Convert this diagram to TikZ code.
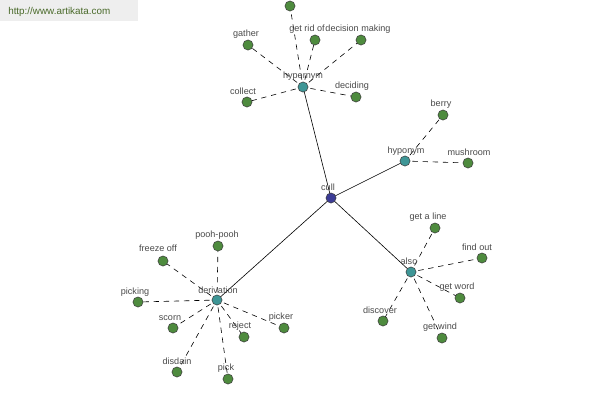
\documentclass[tikz,border=0pt]{standalone}
\usepackage{fontspec}
\setmainfont{Liberation Sans}
\pgfdeclarelayer{background}
\pgfsetlayers{background,main}
\definecolor{leafgreen}{HTML}{4E8B3E}
\definecolor{hubteal}{HTML}{3E9696}
\definecolor{rootblue}{HTML}{3C3C96}
\definecolor{labgray}{HTML}{4A4A4A}
\definecolor{wmgreen}{HTML}{4A6A2A}
\definecolor{wmbg}{HTML}{EEEEEE}
\tikzset{
  dot/.style={circle,draw=black!75,line width=0.4pt,minimum size=7.6pt,inner sep=0pt},
  leaf/.style={dot,fill=leafgreen},
  hub/.style={dot,fill=hubteal},
  rootnode/.style={dot,fill=rootblue},
  lab/.style={font=\fontsize{6.8}{7}\selectfont,text=labgray,inner sep=0pt},
  solidedge/.style={draw=black,line width=0.45pt},
  dashedge/.style={draw=black,line width=0.45pt,dash pattern=on 4pt off 3.6pt,dash phase=2pt}
}
\begin{document}
\begin{tikzpicture}[x=0.75pt,y=-0.75pt]
\useasboundingbox (0,0) rectangle (600,400);

% hubs
\node[rootnode] (cull) at (331,198) {};
\node[hub] (hyper) at (303,87) {};
\node[hub] (hypo) at (405,161) {};
\node[hub] (also) at (411,272) {};
\node[hub] (deriv) at (217,300) {};

\node[lab] (cull-l) at (328,187) {cull};
\node[lab] (hyper-l) at (303,76) {hypernym};
\node[lab] (hypo-l) at (406,151) {hyponym};
\node[lab] (also-l) at (409,261) {also};
\node[lab] (deriv-l) at (218,290) {derivation};

% hypernym leaves
\node[leaf] (top) at (290,6) {};
\node[leaf] (gather) at (248,45) {};
\node[lab] (gather-l) at (246,34) {gather};
\node[leaf] (getrid) at (315,40) {};
\node[lab] (getrid-l) at (307,29) {get rid of};
\node[leaf] (decision) at (361,40) {};
\node[lab] (decision-l) at (358,29) {decision making};
\node[leaf] (collect) at (247,102) {};
\node[lab] (collect-l) at (243,91) {collect};
\node[leaf] (deciding) at (356,97) {};
\node[lab] (deciding-l) at (352,86) {deciding};

% hyponym leaves
\node[leaf] (berry) at (443,115) {};
\node[lab] (berry-l) at (441,104) {berry};
\node[leaf] (mushroom) at (468,163) {};
\node[lab] (mushroom-l) at (469,152) {mushroom};

% also leaves
\node[leaf] (getaline) at (435,228) {};
\node[lab] (getaline-l) at (428,217) {get a line};
\node[leaf] (findout) at (482,258) {};
\node[lab] (findout-l) at (477,247) {find out};
\node[leaf] (getword) at (460,298) {};
\node[lab] (getword-l) at (457,287) {get word};
\node[leaf] (discover) at (383,321) {};
\node[lab] (discover-l) at (380,310) {discover};
\node[leaf] (getwind) at (442,338) {};
\node[lab] (getwind-l) at (440,327) {get wind};

% derivation leaves
\node[leaf] (pooh) at (218,246) {};
\node[lab] (pooh-l) at (217,235) {pooh-pooh};
\node[leaf] (freeze) at (163,261) {};
\node[lab] (freeze-l) at (158,248) {freeze off};
\node[leaf] (picking) at (138,302) {};
\node[lab] (picking-l) at (135,292) {picking};
\node[leaf] (scorn) at (173,328) {};
\node[lab] (scorn-l) at (170,318) {scorn};
\node[leaf] (reject) at (244,337) {};
\node[lab] (reject-l) at (240,326) {reject};
\node[leaf] (picker) at (284,328) {};
\node[lab] (picker-l) at (281,317) {picker};
\node[leaf] (disdain) at (177,372) {};
\node[lab] (disdain-l) at (177,361) {disdain};
\node[leaf] (pick) at (228,379) {};
\node[lab] (pick-l) at (226,368) {pick};

\begin{pgfonlayer}{background}
\fill[white] (0,0) rectangle (600,400);
\fill[wmbg] (0,0) rectangle (138,21);
\node[font=\fontsize{7.4}{8}\selectfont,text=wmgreen,anchor=west,inner sep=0pt] (wm) at (8,12) {http://www.artikata.com};
\foreach \h in {hyper,hypo,also,deriv}
  \draw[solidedge] (cull.center) -- (\h.center);
\foreach \l in {top,gather,getrid,decision,collect,deciding}
  \draw[dashedge] (hyper.center) -- (\l.center);
\foreach \l in {berry,mushroom}
  \draw[dashedge] (hypo.center) -- (\l.center);
\foreach \l in {getaline,findout,getword,discover,getwind}
  \draw[dashedge] (also.center) -- (\l.center);
\foreach \l in {pooh,freeze,picking,scorn,reject,picker,disdain,pick}
  \draw[dashedge] (deriv.center) -- (\l.center);
\end{pgfonlayer}
\end{tikzpicture}
\end{document}
